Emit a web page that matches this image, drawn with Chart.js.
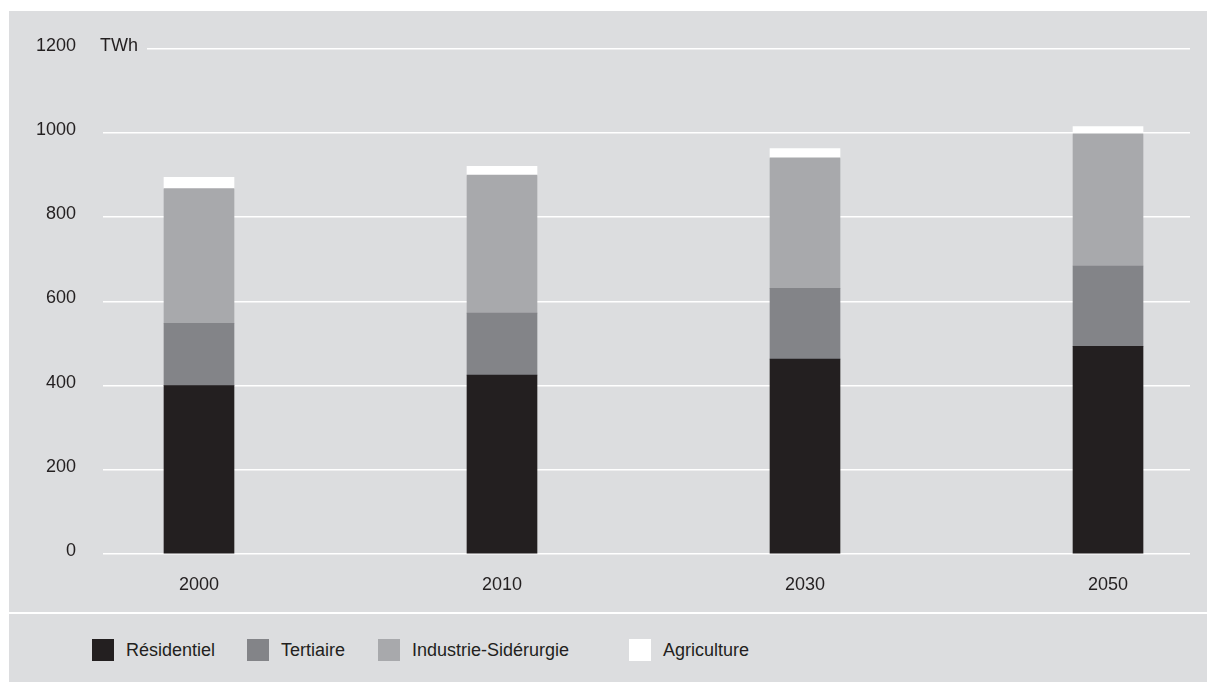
<!DOCTYPE html>
<html>
<head>
<meta charset="utf-8">
<script src="https://cdn.jsdelivr.net/npm/chart.js@4.4.1/dist/chart.umd.min.js"></script>
<style>
    body { margin: 0; background: #ffffff; font-family: 'Liberation Sans', Arial, sans-serif; }
    #panel { position: absolute; left: 9px; top: 11px; width: 1198px; height: 671px; background: #dcdddf; }
    #energyChart { position: absolute; left: 0; top: 0; }
    #sep { position: absolute; left: 0; top: 601px; width: 1198px; height: 2px; background: #ffffff; }
    .legend-box { position: absolute; top: 628px; width: 22px; height: 22px; }
    .legend-text { position: absolute; top: 628px; line-height: 22px; font-size: 18px; color: #231f20; white-space: nowrap; }
</style>
</head>
<body>
<div id="panel">
    <canvas id="energyChart" width="1198" height="601"></canvas>
    <div id="sep"></div>
    <div id="legend"></div>
</div>
<script>
// data (TWh)
const years = ['2000', '2010', '2030', '2050'];
const seriesNames = ['Résidentiel', 'Tertiaire', 'Industrie-Sidérurgie', 'Agriculture'];
const residentiel = [400, 425, 463, 493];
const tertiaire = [148, 147, 168, 191];
const industrie = [320, 328, 310, 314];
const agriculture = [27, 21, 22, 17];
const yTicks = [0, 200, 400, 600, 800, 1000, 1200];

const colors = ['#231f20', '#838488', '#a8a9ac', '#ffffff'];
const legendX = [83, 238, 369, 620];
const bgColor = '#dcdddf';
const textColor = '#231f20';

Chart.defaults.font.family = "'Liberation Sans', Arial, sans-serif";
Chart.defaults.font.size = 18;
Chart.defaults.color = textColor;

// build {x, y} points so bars sit on a linear x scale
function toPoints(values) {
    return values.map((v, i) => ({ x: i, y: v }));
}

const allSeries = [residentiel, tertiaire, industrie, agriculture];

// mask the 1200 gridline behind the unit label
const unitLabel = {
    id: 'unitLabel',
    beforeDatasetsDraw(chart) {
        const ctx = chart.ctx;
        const y = chart.scales.y.getPixelForValue(1200);
        ctx.save();
        ctx.fillStyle = bgColor;
        ctx.fillRect(chart.chartArea.left - 2, y - 3, 140 - chart.chartArea.left, 6);
        ctx.fillStyle = textColor;
        ctx.font = "18px 'Liberation Sans', Arial, sans-serif";
        ctx.textAlign = 'left';
        ctx.textBaseline = 'middle';
        ctx.fillText('TWh', 91, y - 3);
        ctx.restore();
    }
};

const ctx = document.getElementById('energyChart').getContext('2d');

new Chart(ctx, {
    type: 'bar',
    data: {
        datasets: seriesNames.map((name, k) => ({
            label: name,
            data: toPoints(allSeries[k]),
            backgroundColor: colors[k],
            borderWidth: 0,
            barThickness: 70
        }))
    },
    options: {
        responsive: false,
        animation: false,
        layout: { padding: { top: 37, right: 17, left: 0, bottom: 0 } },
        plugins: {
            legend: { display: false },
            tooltip: { enabled: false }
        },
        scales: {
            x: {
                type: 'linear',
                stacked: true,
                offset: false,
                min: -0.3168,
                max: 3.2706,
                grid: { display: false, drawTicks: false, offset: false },
                border: { display: false },
                ticks: {
                    stepSize: 1,
                    includeBounds: false,
                    padding: 20,
                    maxRotation: 0,
                    callback: (v) => years[v] !== undefined ? years[v] : ''
                },
                afterFit: (scale) => { scale.height = 58; }
            },
            y: {
                stacked: true,
                min: 0,
                max: 1200,
                grid: { color: '#ffffff', lineWidth: 1.5, drawTicks: false },
                border: { display: false },
                afterBuildTicks: (scale) => {
                    scale.ticks = yTicks.map(v => ({ value: v }));
                },
                ticks: {
                    padding: 27,
                    labelOffset: -3,
                    callback: (v) => String(v)
                },
                afterFit: (scale) => { scale.width = 94; }
            }
        }
    },
    plugins: [unitLabel]
});

// legend
const legend = document.getElementById('legend');
seriesNames.forEach((name, k) => {
    const box = document.createElement('div');
    box.className = 'legend-box';
    box.style.left = legendX[k] + 'px';
    box.style.background = colors[k];
    legend.appendChild(box);

    const label = document.createElement('div');
    label.className = 'legend-text';
    label.style.left = (legendX[k] + 34) + 'px';
    label.textContent = name;
    legend.appendChild(label);
});
</script>
</body>
</html>
